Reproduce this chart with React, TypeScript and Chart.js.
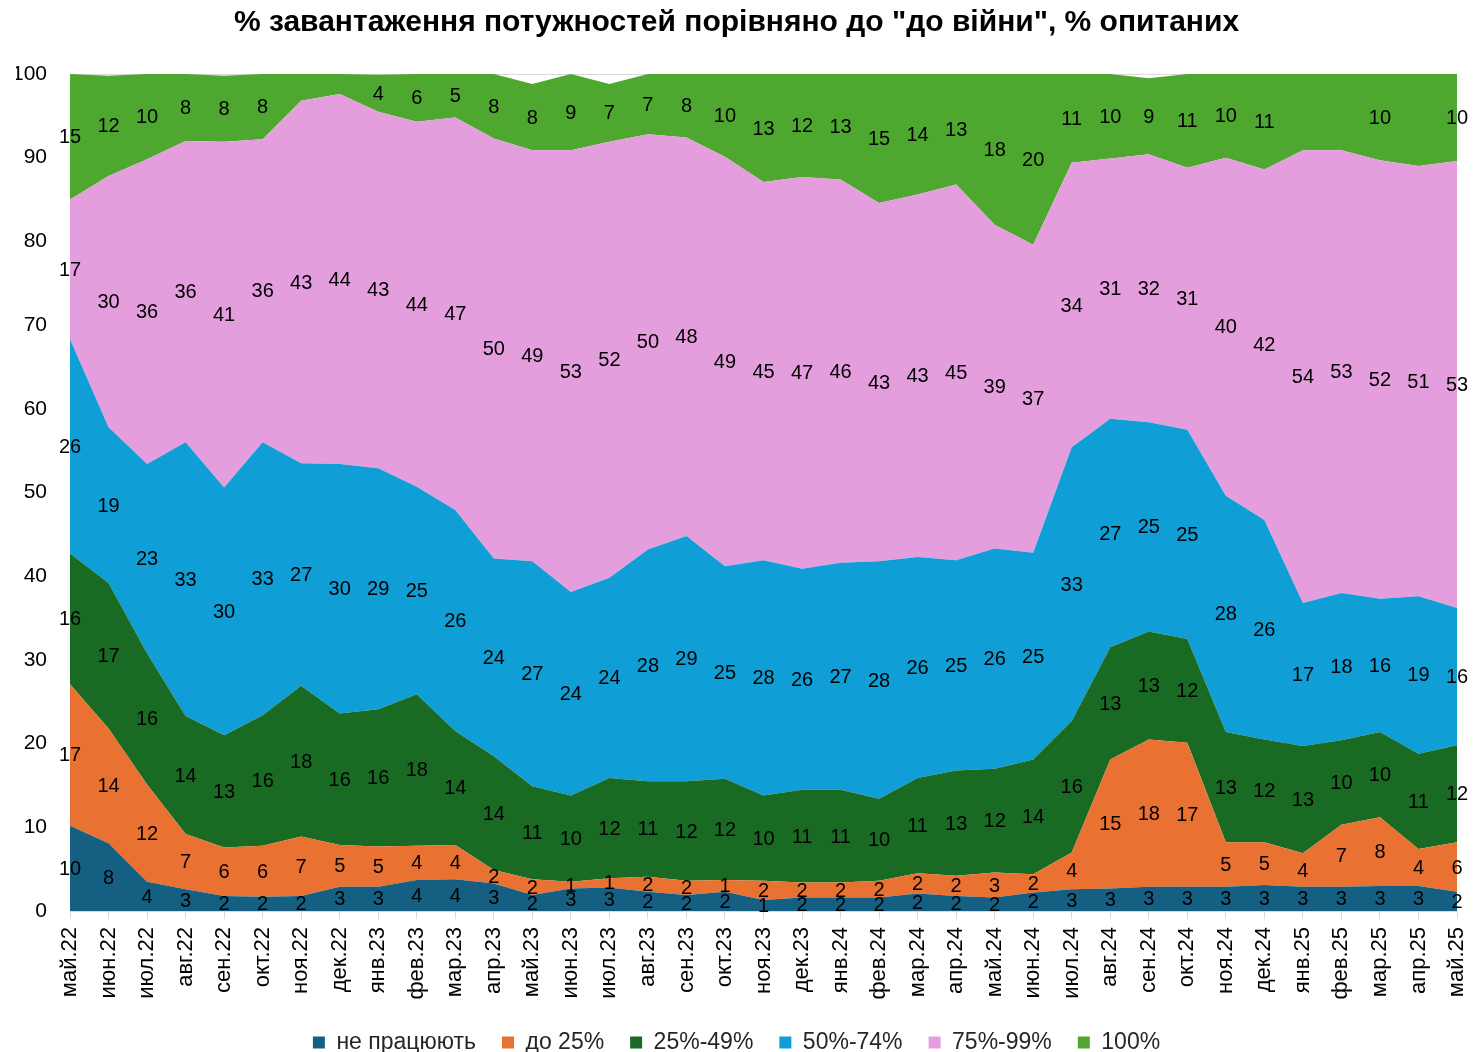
import React, { useEffect, useRef } from "react";
import { Chart, registerables } from "chart.js";

Chart.register(...registerables);

const categories = [
  "май.22", "июн.22", "июл.22", "авг.22", "сен.22", "окт.22", "ноя.22", "дек.22",
  "янв.23", "фев.23", "мар.23", "апр.23", "май.23", "июн.23", "июл.23", "авг.23",
  "сен.23", "окт.23", "ноя.23", "дек.23", "янв.24", "фев.24", "мар.24", "апр.24",
  "май.24", "июн.24", "июл.24", "авг.24", "сен.24", "окт.24", "ноя.24", "дек.24",
  "янв.25", "фев.25", "мар.25", "апр.25", "май.25",
];

const notWorking = [10.2, 8.1, 3.5, 2.6, 1.8, 1.7, 1.8, 2.9, 2.9, 3.7, 3.8, 3.3, 1.9, 2.7, 2.8, 2.3, 1.9, 2.3, 1.3, 1.6, 1.6, 1.6, 2.1, 1.8, 1.6, 2.2, 2.6, 2.7, 2.9, 2.9, 2.9, 3.1, 2.9, 2.9, 3.0, 3.0, 2.3];
const upTo25 = [16.9, 13.7, 11.6, 6.6, 5.8, 6.1, 7.1, 5.0, 4.8, 4.1, 4.1, 1.6, 1.9, 0.8, 1.1, 1.8, 1.7, 1.4, 2.3, 1.8, 1.8, 2.0, 2.4, 2.4, 3.0, 2.2, 4.4, 15.4, 17.6, 17.2, 5.3, 5.1, 4.0, 7.4, 8.2, 4.4, 5.9];
const p25to49 = [15.6, 17.4, 15.7, 14.1, 13.4, 15.6, 18.0, 15.7, 16.4, 18.1, 13.6, 13.6, 11.1, 10.3, 12.0, 11.4, 11.9, 12.1, 10.2, 11.1, 11.1, 9.8, 11.4, 12.6, 12.4, 13.7, 15.7, 13.4, 12.9, 12.4, 13.2, 12.3, 12.8, 10.1, 10.2, 11.4, 11.6];
const p50to74 = [25.6, 18.6, 22.6, 32.7, 29.6, 32.6, 26.6, 29.8, 28.8, 24.8, 26.4, 23.6, 26.9, 24.3, 23.9, 27.7, 29.3, 25.4, 28.1, 26.4, 27.1, 28.4, 26.4, 25.1, 26.3, 24.7, 32.7, 27.3, 25.0, 25.0, 28.2, 26.2, 17.1, 17.6, 15.9, 18.8, 16.4];
const p75to99 = [16.7, 30.0, 36.4, 36.0, 41.3, 36.2, 43.3, 44.2, 42.6, 43.6, 46.9, 50.2, 49.1, 52.8, 52.1, 49.6, 47.6, 48.9, 45.2, 46.8, 45.8, 42.8, 43.3, 44.9, 38.7, 36.8, 34.0, 31.1, 32.0, 31.3, 40.4, 41.9, 54.1, 52.9, 52.4, 51.4, 53.4];
const p100 = [15.0, 12.0, 10.2, 8.0, 7.9, 7.8, 3.2, 2.4, 4.4, 5.7, 5.2, 7.7, 7.9, 9.1, 6.9, 7.2, 7.6, 9.9, 12.9, 12.3, 12.6, 15.4, 14.4, 13.2, 18.0, 20.4, 10.6, 10.1, 9.1, 11.2, 10.0, 11.4, 9.1, 9.1, 10.3, 11.0, 10.4];

// indices of 100% labels that are not shown in the original
const hidden100Labels = [6, 7, 32, 33, 35];

const seriesNames = ["не працюють", "до 25%", "25%-49%", "50%-74%", "75%-99%", "100%"];
const seriesColors = ["#156082", "#E97132", "#196B24", "#0F9ED5", "#E49EDD", "#4EA72E"];
const seriesData = [notWorking, upTo25, p25to49, p50to74, p75to99, p100];
const hiddenLabels = [[], [], [], [], [], hidden100Labels];

const titleText = '% завантаження потужностей порівняно до "до війни", % опитаних';
const yTicks = { min: 0, max: 100, step: 10 };

const FONT = "'Liberation Sans', Arial, sans-serif";

const labelPlugin = {
  id: "areaLabels",
  afterDatasetsDraw(chart: any) {
    const ctx = chart.ctx;
    const yScale = chart.scales.y;
    const base = yScale.getPixelForValue(0);
    ctx.save();
    ctx.font = `20px ${FONT}`;
    ctx.fillStyle = "#000";
    ctx.textAlign = "center";
    ctx.textBaseline = "middle";
    chart.data.datasets.forEach((ds: any, i: number) => {
      const meta = chart.getDatasetMeta(i);
      const prev = i > 0 ? chart.getDatasetMeta(i - 1) : null;
      meta.data.forEach((pt: any, j: number) => {
        if (hiddenLabels[i].includes(j)) return;
        const top = pt.y;
        const bottom = prev ? prev.data[j].y : base;
        const v = ds.data[j];
        ctx.fillText(String(Math.round(v)), pt.x, (top + bottom) / 2 + 1);
      });
    });
    ctx.restore();
  },
};

export default function App() {
  const ref = useRef<HTMLCanvasElement>(null);

  useEffect(() => {
    if (!ref.current) return;
    const chart = new Chart(ref.current, {
      type: "line",
      data: {
        labels: categories,
        datasets: seriesData.map((d, i) => ({
          label: seriesNames[i],
          data: d,
          backgroundColor: seriesColors[i],
          borderColor: seriesColors[i],
          borderWidth: 0,
          pointRadius: 0,
          pointHoverRadius: 0,
          tension: 0,
          fill: i === 0 ? "origin" : "-1",
        })),
      },
      options: {
        responsive: false,
        animation: false,
        devicePixelRatio: 1,
        layout: { padding: { left: 16, right: 16, top: 0, bottom: 0 } },
        plugins: {
          title: {
            display: true,
            text: titleText,
            color: "#000",
            font: { family: FONT, size: 30, weight: "bold" },
            padding: { top: 5, bottom: 33 },
          },
          legend: {
            position: "bottom",
            labels: {
              font: { family: FONT, size: 23 },
              color: "#262626",
              boxWidth: 12,
              boxHeight: 12,
              padding: 26,
            },
          },
          tooltip: { enabled: false },
        },
        scales: {
          x: {
            offset: false,
            grid: {
              display: true,
              drawOnChartArea: false,
              drawTicks: true,
              tickLength: 8,
              color: "#d9d9d9",
            },
            border: { display: true, color: "#d9d9d9", width: 1 },
            ticks: {
              autoSkip: false,
              maxRotation: 90,
              minRotation: 90,
              padding: 8,
              color: "#000",
              font: { family: FONT, size: 22 },
            },
            afterFit: (scale: any) => {
              scale.height = 94;
              scale.paddingRight = 0;
              scale.paddingLeft = 0;
            },
          },
          y: {
            stacked: true,
            min: yTicks.min,
            max: yTicks.max,
            grid: { color: "#d9d9d9", drawTicks: false },
            border: { display: false },
            ticks: {
              stepSize: yTicks.step,
              padding: 23,
              color: "#000",
              font: { family: FONT, size: 21 },
            },
            afterFit: (scale: any) => {
              scale.width = 54;
            },
          },
        },
      },
      plugins: [labelPlugin],
    });
    return () => chart.destroy();
  }, []);

  return (
    <div
      style={{
        position: "fixed",
        left: 0,
        top: 0,
        width: 1473,
        height: 1052,
        overflow: "hidden",
        background: "#fff",
      }}
    >
      <canvas ref={ref} width={1473} height={1064} style={{ display: "block" }} />
    </div>
  );
}
